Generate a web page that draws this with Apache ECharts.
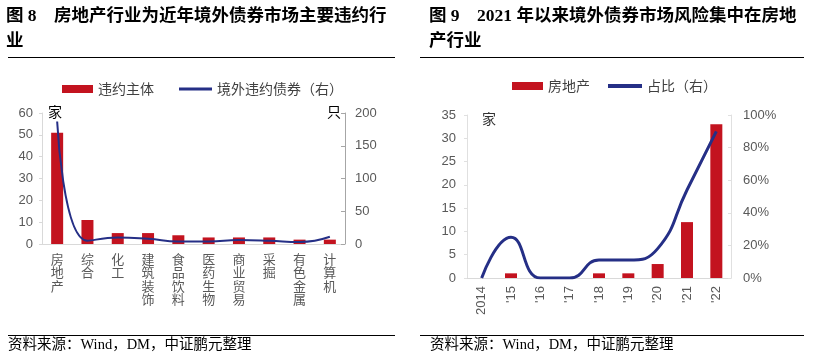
<!DOCTYPE html>
<html><head><meta charset="utf-8">
<style>html,body{margin:0;padding:0;background:#fff;}#c{width:820px;height:360px;}</style>
<script src="https://cdn.jsdelivr.net/npm/echarts/dist/echarts.min.js"></script>
</head><body><div id="c"></div>
<script>
// Left chart data
const industries = ['房地产','综合','化工','建筑装饰','食品饮料','医药生物','商业贸易','采掘','有色金属','计算机'];
const defaultIssuers = [51, 11, 5, 5, 4, 3, 3, 3, 2, 2];
const offshoreBonds = [187, 5, 10, 8, 4, 4, 6, 5, 3, 11];
const leftTicks = [0, 10, 20, 30, 40, 50, 60];
const rightTicks = [0, 50, 100, 150, 200];
// Right chart data
const years = ['2014', "'15", "'16", "'17", "'18", "'19", "'20", "'21", "'22"];
const realEstate = [0, 1, 0, 0, 1, 1, 3, 12, 33];
const share = [0, 0.25, 0, 0, 0.11, 0.11, 0.18, 0.54, 0.90];

const RED = '#c3131f';
const NAVY = '#252f86';
const LABEL = '#595959';
const SANS = '"Liberation Sans", Arial, "Noto Sans CJK SC", sans-serif';
const CJK = '"Noto Sans CJK SC", sans-serif';

const chart = echarts.init(document.getElementById('c'));
const titleStyle = {fontFamily: '"Liberation Serif", "Noto Sans CJK SC", serif', fontWeight: 'bold', fontSize: 17.5, color: '#000', lineHeight: 25};
const footStyle = {fontFamily: '"Liberation Serif", "Noto Sans CJK SC", serif', fontWeight: 'normal', fontSize: 14.5, color: '#000'};
const legText = {fontFamily: CJK, fontSize: 14, color: '#404040'};

chart.setOption({
  animation: false,
  title: [
    {text: '图 8　房地产行业为近年境外债券市场主要违约行\n业', left: 6, top: 4, textStyle: titleStyle, padding: 0},
    {text: '图 9　2021 年以来境外债券市场风险集中在房地\n产行业', left: 429, top: 4, textStyle: titleStyle, padding: 0},
    {text: '资料来源：Wind，DM，中证鹏元整理', left: 8, top: 338, textStyle: footStyle, padding: 0},
    {text: '资料来源：Wind，DM，中证鹏元整理', left: 430, top: 338, textStyle: footStyle, padding: 0}
  ],
  legend: [
    {data: ['违约主体'], left: 57, top: 77, itemWidth: 31, itemHeight: 8, icon: 'rect', textStyle: legText},
    {data: ['境外违约债券（右）'], left: 174, top: 77, itemWidth: 33, itemHeight: 3, icon: 'rect', textStyle: legText},
    {data: ['房地产'], left: 507, top: 74, itemWidth: 31, itemHeight: 8, icon: 'rect', textStyle: legText},
    {data: ['占比（右）'], left: 603, top: 74, itemWidth: 34, itemHeight: 4, icon: 'rect', textStyle: legText}
  ],
  grid: [
    {left: 42, top: 113, width: 303, height: 131},
    {left: 467, top: 115, width: 264, height: 163}
  ],
  xAxis: [
    {type: 'category', gridIndex: 0, data: industries,
     axisLine: {lineStyle: {color: '#d9d9d9'}}, axisTick: {show: false},
     axisLabel: {interval: 0, margin: 8, color: LABEL, fontFamily: CJK, fontSize: 13, lineHeight: 13.5,
       formatter: v => v.split('').join('\n'), verticalAlign: 'top'}},
    {type: 'category', gridIndex: 1, data: years,
     axisLine: {lineStyle: {color: '#d9d9d9'}}, axisTick: {show: false},
     axisLabel: {interval: 0, rotate: 90, margin: 8, color: LABEL, fontFamily: SANS, fontSize: 13}}
  ],
  yAxis: [
    {type: 'value', gridIndex: 0, min: leftTicks[0], max: leftTicks[leftTicks.length-1], interval: 10,
     splitLine: {show: false}, axisLine: {show: true, lineStyle: {color: '#d9d9d9'}},
     axisTick: {show: true, length: 3, lineStyle: {color: '#d9d9d9'}},
     axisLabel: {margin: 9, color: LABEL, fontFamily: SANS, fontSize: 13}},
    {type: 'value', gridIndex: 0, position: 'right', min: rightTicks[0], max: rightTicks[rightTicks.length-1], interval: 50,
     splitLine: {show: false}, axisLine: {show: true, lineStyle: {color: '#a6a6a6'}},
     axisTick: {show: true, inside: true, length: 4, lineStyle: {color: '#a6a6a6'}},
     axisLabel: {margin: 10, color: LABEL, fontFamily: SANS, fontSize: 13}},
    {type: 'value', gridIndex: 1, min: 0, max: 35, interval: 5,
     splitLine: {show: false}, axisLine: {show: true, lineStyle: {color: '#e0e0e0'}},
     axisTick: {show: true, length: 3, lineStyle: {color: '#e0e0e0'}},
     axisLabel: {margin: 11, color: LABEL, fontFamily: SANS, fontSize: 13}},
    {type: 'value', gridIndex: 1, position: 'right', min: 0, max: 1, interval: 0.2,
     splitLine: {show: false}, axisLine: {show: true, lineStyle: {color: '#e0e0e0'}},
     axisTick: {show: true, inside: true, length: 3, lineStyle: {color: '#e0e0e0'}},
     axisLabel: {margin: 12, color: LABEL, fontFamily: SANS, fontSize: 13, formatter: v => Math.round(v * 100) + '%'}}
  ],
  graphic: [
    {type: 'line', shape: {x1: 8, y1: 57.5, x2: 395, y2: 57.5}, style: {stroke: '#000', lineWidth: 1}},
    {type: 'line', shape: {x1: 420, y1: 57.5, x2: 804, y2: 57.5}, style: {stroke: '#000', lineWidth: 1}},
    {type: 'line', shape: {x1: 8, y1: 335.5, x2: 395, y2: 335.5}, style: {stroke: '#000', lineWidth: 1}},
    {type: 'line', shape: {x1: 420, y1: 335.5, x2: 804, y2: 335.5}, style: {stroke: '#000', lineWidth: 1}},
    {type: 'text', left: 48, top: 105, style: {text: '家', font: '14px "Noto Sans CJK SC"', fill: '#000'}},
    {type: 'text', left: 327, top: 105, style: {text: '只', font: '14px "Noto Sans CJK SC"', fill: '#000'}},
    {type: 'text', left: 482, top: 112, style: {text: '家', font: '14px "Noto Sans CJK SC"', fill: '#333'}}
  ],
  series: [
    {name: '违约主体', type: 'bar', xAxisIndex: 0, yAxisIndex: 0, data: defaultIssuers, barWidth: 12,
     itemStyle: {color: RED}},
    {name: '境外违约债券（右）', type: 'line', xAxisIndex: 0, yAxisIndex: 1, data: offshoreBonds, smooth: true,
     symbol: 'none', lineStyle: {color: NAVY, width: 2}, itemStyle: {color: NAVY}},
    {name: '房地产', type: 'bar', xAxisIndex: 1, yAxisIndex: 2, data: realEstate, barWidth: 12,
     itemStyle: {color: RED}},
    {name: '占比（右）', type: 'line', xAxisIndex: 1, yAxisIndex: 3, data: share, smooth: true,
     symbol: 'none', lineStyle: {color: NAVY, width: 3}, itemStyle: {color: NAVY}}
  ]
});
</script></body></html>
